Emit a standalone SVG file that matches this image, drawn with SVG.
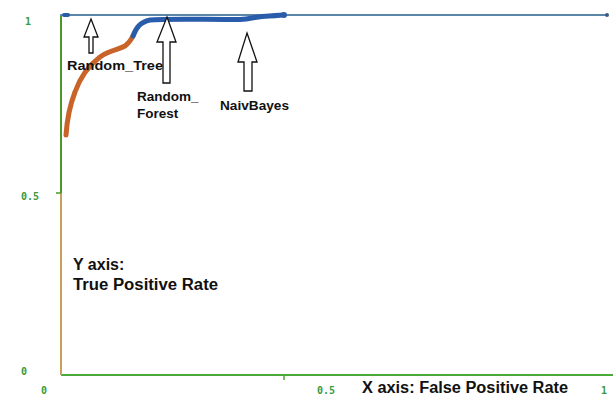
<svg xmlns="http://www.w3.org/2000/svg" width="613" height="401" viewBox="0 0 613 401">
<style>
.tick{font-family:"DejaVu Sans Mono",monospace;font-size:10px;font-weight:bold;fill:#3a9a3a}
.lbl{font-family:"Liberation Sans",Arial,sans-serif;font-weight:bold;fill:#111}
.arrow{fill:#fff;stroke:#111;stroke-width:1.3;stroke-linejoin:miter}
</style>
<rect width="613" height="401" fill="#fff"/>
<g id="axes">
<line x1="61" y1="375" x2="613" y2="375" stroke="#4caa3a" stroke-width="2"/>
<line x1="284" y1="375" x2="284" y2="380" stroke="#4caa3a" stroke-width="1.5"/>
<line x1="61" y1="15" x2="61" y2="193" stroke="#4a9a2a" stroke-width="2"/>
<line x1="61" y1="193" x2="61" y2="375" stroke="#c9a060" stroke-width="2"/>
<line x1="56" y1="193" x2="61" y2="193" stroke="#4a9a2a" stroke-width="1.5"/>
</g>
<g id="ticks">
<text class="tick" x="25" y="25">1</text>
<text class="tick" x="21" y="200">0.5</text>
<text class="tick" x="21" y="375">0</text>
<text class="tick" x="41" y="394">0</text>
<text class="tick" x="317" y="394">0.5</text>
<text class="tick" x="601" y="394">1</text>
</g>
<g id="curves" fill="none" stroke-linecap="round">
<line x1="61" y1="15" x2="607" y2="15" stroke="#5b86a8" stroke-width="2"/>
<path d="M64,15 L68,15" stroke="#2a5ca8" stroke-width="4"/>
<circle cx="607" cy="15" r="2" fill="#3a5a88" stroke="none"/>
<path d="M66,135 C67,120 70,105 75,92 C80,78 88,66 100,57 C110,50 118,50 125,46 C129,43 131,40 133,36" stroke="#c8642a" stroke-width="5"/>
<path d="M133,36 C136,28 140,22 150,20 C165,18.5 200,19.5 240,19.5 C250,19 255,17 262,16.5 C270,16 278,15.5 283,15" stroke="#2a5cac" stroke-width="5"/>
<circle cx="284" cy="15" r="3" fill="#2a5cac" stroke="none"/>
</g>
<g id="arrow-random-tree">
<polygon class="arrow" points="91,19 98,37 93,37 93,53 89,53 89,37 84,37"/>
<text class="lbl" x="67" y="70" font-size="13.5" textLength="96" lengthAdjust="spacingAndGlyphs">Random_Tree</text>
</g>
<g id="arrow-random-forest">
<polygon class="arrow" points="167,17 176,42 170,42 170,83 163,83 163,42 157,42"/>
<text class="lbl" x="137" y="101" font-size="13.5">Random_</text>
<text class="lbl" x="137" y="118" font-size="13.5">Forest</text>
</g>
<g id="arrow-naivbayes">
<polygon class="arrow" points="247,33 257,62 252,62 252,91 244,91 244,62 238,62"/>
<text class="lbl" x="220" y="110" font-size="13.5" textLength="69" lengthAdjust="spacingAndGlyphs">NaivBayes</text>
</g>
<g id="axis-labels">
<text class="lbl" x="73" y="270" font-size="16">Y axis:</text>
<text class="lbl" x="73" y="290" font-size="16" textLength="145" lengthAdjust="spacingAndGlyphs">True Positive Rate</text>
<text class="lbl" x="362" y="393" font-size="16" textLength="206" lengthAdjust="spacingAndGlyphs">X axis: False Positive Rate</text>
</g>
</svg>
